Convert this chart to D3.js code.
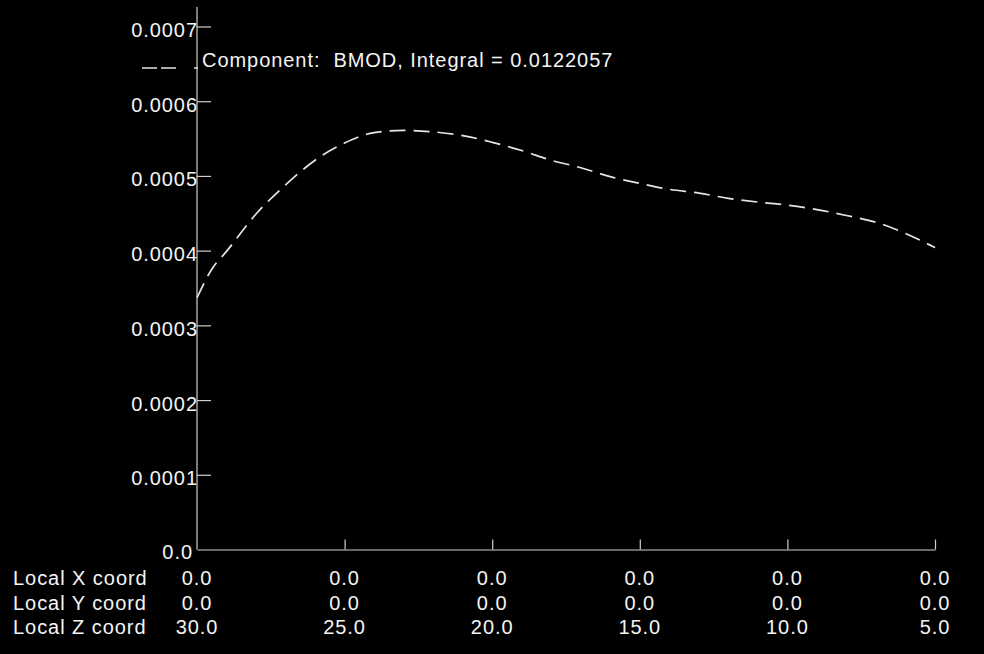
<!DOCTYPE html>
<html>
<head>
<meta charset="utf-8">
<script src="https://cdn.jsdelivr.net/npm/d3@7/dist/d3.min.js"></script>
<style>
  html, body { margin: 0; padding: 0; background: #000; }
  svg { display: block; }
  text { font-family: "Liberation Sans", Arial, Helvetica, sans-serif; font-size: 20px; letter-spacing: 0.95px; fill: #f4f4f4; white-space: pre; }
</style>
</head>
<body>
<svg id="chart" width="984" height="654"></svg>
<script>
// Sample positions along the path (local Z coordinate) and the BMOD value at each
const zPath = [30, 29.5, 29, 28, 27, 26, 25, 24, 23, 22, 21, 20, 19, 18, 17, 16, 15, 14, 13, 12, 11, 10, 9, 8, 7, 6, 5];
const bmod = [0.000337, 0.000375, 0.000399, 0.000449, 0.000488, 0.000521, 0.000544, 0.000558, 0.000561, 0.000559,
              0.000554, 0.000545, 0.000534, 0.000521, 0.000511, 0.000499, 0.000490, 0.000482, 0.000477, 0.000470,
              0.000465, 0.000461, 0.000455, 0.000447, 0.000438, 0.000423, 0.000404];

// Station table under the x axis
const stationZ = [30, 25, 20, 15, 10, 5];
const stationX = [0, 0, 0, 0, 0, 0];
const stationY = [0, 0, 0, 0, 0, 0];
const rowLabels = ["Local X coord", "Local Y coord", "Local Z coord"];

// Value axis ticks
const yTicks = [0, 0.0001, 0.0002, 0.0003, 0.0004, 0.0005, 0.0006, 0.0007];
const yTickLabels = ["0.0", "0.0001", "0.0002", "0.0003", "0.0004", "0.0005", "0.0006", "0.0007"];

const legendText = "Component:  BMOD, Integral = 0.0122057";

const svg = d3.select("#chart");

const x = d3.scaleLinear().domain([30, 5]).range([197, 935]);
const y = d3.scaleLinear().domain([0, 0.0007]).range([549.5, 26.5]);

const axisColor = "#cfcfcf";

// Y axis: ticks point into the plot, labels sit to the left
const yAxis = d3.axisLeft(y)
  .tickValues(yTicks.slice(1))
  .tickFormat((d) => yTickLabels[yTicks.indexOf(d)])
  .tickSize(-14)
  .tickSizeOuter(0)
  .tickPadding(-1);

const gy = svg.append("g").attr("transform", `translate(${x(30)},0)`).call(yAxis);
gy.select(".domain").remove();
gy.selectAll(".tick line").attr("stroke", axisColor).attr("stroke-width", 1.2);
gy.selectAll(".tick text").attr("dy", "0.5em").attr("fill", "#f4f4f4")
  .attr("font-family", null).attr("font-size", null);

// Vertical axis line runs a little above the top tick
svg.append("line")
  .attr("x1", x(30)).attr("x2", x(30))
  .attr("y1", y(0)).attr("y2", 7)
  .attr("stroke", axisColor).attr("stroke-width", 1.2);

// Zero label of the value axis
svg.append("text")
  .attr("x", x(30) - 4).attr("y", y(0)).attr("dy", "0.45em")
  .attr("text-anchor", "end")
  .text(yTickLabels[0]);

// X axis: baseline with upward ticks at the stations
const xAxis = d3.axisBottom(x)
  .tickValues(stationZ.slice(1))
  .tickFormat("")
  .tickSize(-10)
  .tickSizeOuter(0);

const gx = svg.append("g").attr("transform", `translate(0,${y(0)})`).call(xAxis);
gx.select(".domain").attr("stroke", axisColor).attr("stroke-width", 1.2);
gx.selectAll(".tick line").attr("stroke", axisColor).attr("stroke-width", 1.2);

// Station table rows
const rows = [stationX, stationY, stationZ];
const rowBaselines = [585, 609.5, 634];
rows.forEach((vals, i) => {
  svg.append("text")
    .attr("x", 13).attr("y", rowBaselines[i])
    .text(rowLabels[i]);
  svg.selectAll(null)
    .data(vals.map((v, j) => ({ v, z: stationZ[j] })))
    .enter().append("text")
    .attr("x", (d) => x(d.z))
    .attr("y", rowBaselines[i])
    .attr("text-anchor", "middle")
    .text((d) => d.v.toFixed(1));
});

// BMOD curve
const line = d3.line()
  .x((d, i) => x(zPath[i]))
  .y((d) => y(d))
  .curve(d3.curveMonotoneX);

svg.append("path")
  .datum(bmod)
  .attr("d", line)
  .attr("fill", "none")
  .attr("stroke", "#e4e4ee")
  .attr("stroke-width", 1.7)
  .attr("stroke-dasharray", "16,8");

// Legend sample and caption
svg.append("line")
  .attr("x1", 142).attr("x2", 198)
  .attr("y1", 68).attr("y2", 68)
  .attr("stroke", "#e4e4ee")
  .attr("stroke-width", 1.5)
  .attr("stroke-dasharray", "15,4,15,18");

svg.append("text")
  .attr("x", 202).attr("y", 66.5)
  .text(legendText);
</script>
</body>
</html>
